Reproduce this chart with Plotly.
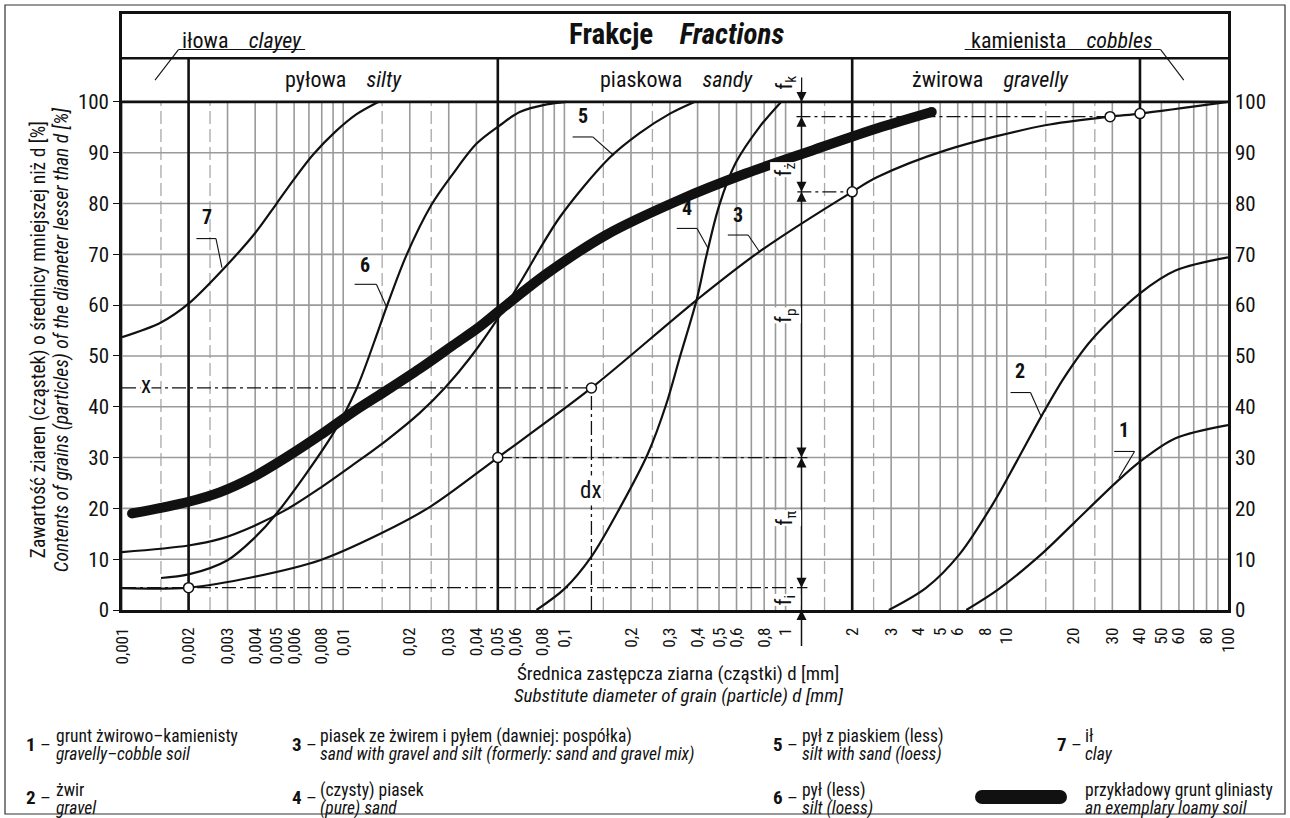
import math
import plotly.graph_objects as go

# ---------------- data ----------------
# curve 1 - gravelly-cobble soil
d1 = [6.56, 9.12, 14.6, 20.3, 31.9, 40, 57.9, 100]
p1 = [0, 4.0, 11.3, 17.3, 25.5, 29.2, 33.8, 36.4]
# curve 2 - gravel
d2 = [2.93, 4.33, 6.12, 8.74, 11.1, 14.4, 18.2, 24.1, 40, 57.9, 100]
p2 = [0, 4.4, 11.0, 21.2, 29.3, 38.3, 45.8, 53.1, 62.3, 66.8, 69.4]
# curve 3 - sand with gravel and silt
d3 = [0.001, 0.002, 0.00393, 0.00786, 0.0147, 0.0247, 0.05, 0.1325, 0.396, 0.76, 2, 2.6, 5.32, 14.9, 29.3, 40, 100]
p3 = [4.3, 4.4, 6.5, 9.8, 15.0, 20.3, 30.0, 43.7, 61.0, 70.5, 82.3, 85.2, 90.5, 95.4, 97.1, 97.7, 100]
# curve 4 - (pure) sand
d4 = [0.0748, 0.1003, 0.1325, 0.1777, 0.2386, 0.2886, 0.3313, 0.396, 0.4373, 0.50, 0.595, 0.76, 0.954]
p4 = [0, 4.2, 10.5, 20.0, 30.8, 40.5, 49.5, 61.0, 69.5, 79.5, 88.0, 95.0, 100]
# curve 5 - silt with sand (loess)
d5 = [0.001, 0.002, 0.00278, 0.00393, 0.00556, 0.00786, 0.0111, 0.0157, 0.0222, 0.0292, 0.0374, 0.0511, 0.0628, 0.0953, 0.16, 0.218, 0.3, 0.387]
p5 = [11.4, 12.7, 14.0, 16.5, 19.8, 24.0, 28.6, 33.4, 38.8, 44.0, 49.6, 58.0, 64.3, 77.3, 89.0, 93.8, 97.7, 100]
# curve 6 - silt (loess)
d6 = [0.0015, 0.002, 0.003, 0.00393, 0.005, 0.009, 0.0115, 0.0144, 0.0157, 0.0193, 0.0251, 0.0314, 0.0401, 0.0511, 0.0628, 0.0832, 0.102]
p6 = [6.3, 7.0, 9.8, 14.0, 19.0, 34.7, 43.6, 55.0, 59.6, 69.8, 79.8, 85.9, 91.8, 95.4, 98.0, 99.5, 100]
# curve 7 - clay
d7 = [0.001, 0.0015, 0.002, 0.003, 0.004, 0.005, 0.006, 0.0073, 0.0093, 0.0115, 0.0144]
p7 = [53.7, 56.6, 60.3, 68.0, 74.2, 80.0, 84.8, 89.6, 94.3, 97.6, 100]
# exemplary loamy soil (thick)
dT = [0.00111, 0.002, 0.00278, 0.00393, 0.00556, 0.00786, 0.0111, 0.0157, 0.0222, 0.0314, 0.0415, 0.0511, 0.0832, 0.154, 0.331, 0.66, 1.33, 2.6, 4.58]
pT = [19.0, 21.3, 23.2, 26.2, 30.1, 34.4, 39.0, 43.2, 47.5, 52.1, 55.8, 59.0, 66.2, 73.8, 80.7, 85.9, 90.5, 94.8, 98.0]
# open-circle markers on curve 3
mk_d = [0.002, 0.05, 0.1325, 2, 29.3, 40]
mk_p = [4.4, 30.0, 43.7, 82.3, 97.1, 97.7]
# fraction dimension levels (arrow tips)
f_down = [100, 82.3, 30.0, 4.4]
f_up = [97.1, 82.3, 30.0, 0]

x_tick_vals = [0.001, 0.002, 0.003, 0.004, 0.005, 0.006, 0.008, 0.01, 0.02, 0.03, 0.04, 0.05, 0.06, 0.08,
               0.1, 0.2, 0.3, 0.4, 0.5, 0.6, 0.8, 1, 2, 3, 4, 5, 6, 8, 10, 20, 30, 40, 50, 60, 80, 100]
x_tick_text = ["0,001", "0,002", "0,003", "0,004", "0,005", "0,006", "0,008", "0,01", "0,02", "0,03", "0,04",
               "0,05", "0,06", "0,08", "0,1", "0,2", "0,3", "0,4", "0,5", "0,6", "0,8", "1", "2", "3", "4", "5",
               "6", "8", "10", "20", "30", "40", "50", "60", "80", "100"]
y_tick_vals = [0, 10, 20, 30, 40, 50, 60, 70, 80, 90, 100]
fraction_bounds = [0.002, 0.05, 2, 40]

# ---------------- layout helpers ----------------
FONT = "Roboto Condensed, Liberation Sans Narrow, Arial Narrow, Roboto, Liberation Sans, sans-serif"
BLACK = "#111111"
GRID = "#9a9a9a"
PL, PR, PT, PB = 122, 1228, 14, 610
YTOP = 117.3
HMID = 108.6
L = math.log10


def px2paper_x(px):
    return (px - PL) / (PR - PL)


def px2paper_y(py):
    return (PB - py) / (PB - PT)


def data2paper_x(d):
    return (L(d) + 3) / 5.0


def A(**kw):
    base = dict(showarrow=False, xanchor="center", yanchor="middle")
    base.update(kw)
    return base


fig = go.Figure()
shapes = []
ann = []

# vertical grid
for n in range(-3, 2):
    for k in range(1, 10):
        v = k * 10 ** n
        shapes.append(dict(type="line", xref="x", yref="y", x0=v, x1=v, y0=0, y1=100,
                           line=dict(color=GRID, width=1.6), layer="below"))
    for k in (1.5, 2.5):
        v = k * 10 ** n
        shapes.append(dict(type="line", xref="x", yref="y", x0=v, x1=v, y0=0, y1=100,
                           line=dict(color="#a9a9a9", width=1.3, dash="13px,5px"), layer="below"))
# horizontal grid
for yv in range(10, 100, 10):
    shapes.append(dict(type="line", xref="x", yref="y", x0=0.001, x1=100, y0=yv, y1=yv,
                       line=dict(color=GRID, width=1.6), layer="below"))
# fraction boundaries & header lines
for b in fraction_bounds:
    shapes.append(dict(type="line", xref="x", yref="y", x0=b, x1=b, y0=0, y1=HMID,
                       line=dict(color=BLACK, width=2.6), layer="below"))
for yv in (100, HMID):
    shapes.append(dict(type="line", xref="x", yref="y", x0=0.001, x1=100, y0=yv, y1=yv,
                       line=dict(color=BLACK, width=2.6), layer="below"))

# dash-dot construction lines
DD = "14px,4px,3px,4px"
dd_lines = [
    (0.001, mk_p[0], 1.255, mk_p[0]),
    (mk_d[1], mk_p[1], 1.255, mk_p[1]),
    (0.001, mk_p[2], mk_d[2], mk_p[2]),
    (mk_d[2], 0, mk_d[2], mk_p[2]),
    (1.13, mk_p[3], mk_d[3], mk_p[3]),
    (1.12, mk_p[4], mk_d[4], mk_p[4]),
]
for x0, y0, x1, y1 in dd_lines:
    shapes.append(dict(type="line", xref="x", yref="y", x0=x0, x1=x1, y0=y0, y1=y1,
                       line=dict(color=BLACK, width=1.3, dash=DD), layer="below"))

# f dimension line (inside plot + continuation below the axis)
DF = 1.18
shapes.append(dict(type="line", xref="x", yref="y", x0=DF, x1=DF, y0=0, y1=104.8,
                   line=dict(color=BLACK, width=1.5)))
shapes.append(dict(type="line", xref="paper", yref="paper", x0=data2paper_x(DF), x1=data2paper_x(DF),
                   y0=px2paper_y(646), y1=px2paper_y(610), line=dict(color=BLACK, width=1.5)))

# f labels
for txt, yv in [("f<sub>k</sub>", 103.7), ("f<sub>ż</sub>", 86.6), ("f<sub>p</sub>", 58.0),
                ("f<sub>π</sub>", 18.1), ("f<sub>i</sub>", 2.0)]:
    ann.append(A(x=L(1.0), y=yv, xref="x", yref="y", text=txt, textangle=-90,
                 font=dict(family=FONT, size=22, color=BLACK), bgcolor="white", borderpad=0))

# curve number labels: (text d, text y, underline d0, d1, y, leader end d, y)
labels = [
    ("7", 0.00242, 75.3, 0.00217, 0.00266, 73.1, 0.00283, 67.4),
    ("6", 0.01254, 66.0, 0.01126, 0.01413, 64.1, 0.01573, 59.6),
    ("5", 0.1215, 95.3, 0.1089, 0.1343, 93.1, 0.1667, 89.5),
    ("4", 0.358, 77.2, 0.322, 0.398, 75.1, 0.446, 71.2),
    ("3", 0.610, 75.8, 0.548, 0.677, 73.8, 0.762, 70.5),
    ("2", 11.5, 45.0, 10.4, 12.8, 42.8, 14.3, 38.1),
    ("1", 33.9, 33.4, 30.6, 37.8, 31.2, 32.1, 26.0),
]
for t, td, ty, u0, u1, uy, ed, ey in labels:
    ann.append(A(x=L(td), y=ty, xref="x", yref="y", text="<b>%s</b>" % t,
                 font=dict(family=FONT, size=20, color=BLACK), yanchor="bottom", yshift=-4))
    shapes.append(dict(type="line", xref="x", yref="y", x0=u0, x1=u1, y0=uy, y1=uy,
                       line=dict(color=BLACK, width=1.1)))
    shapes.append(dict(type="line", xref="x", yref="y", x0=u1, x1=ed, y0=uy, y1=ey,
                       line=dict(color=BLACK, width=1.1)))

# header texts
ann.append(A(x=L(0.3199), y=113.4, xref="x", yref="y",
             text="<b>Frakcje</b>    <b><i>Fractions</i></b>",
             font=dict(family=FONT, size=29, color=BLACK)))
ann.append(A(x=L(0.00349), y=112.1, xref="x", yref="y",
             text="iłowa    <i>clayey</i>", font=dict(family=FONT, size=22, color=BLACK)))
ann.append(A(x=L(17.8), y=112.1, xref="x", yref="y",
             text="kamienista    <i>cobbles</i>", font=dict(family=FONT, size=22, color=BLACK)))
for txt, xd in [("pyłowa    <i>silty</i>", 0.01), ("piaskowa    <i>sandy</i>", 0.3199),
                ("żwirowa    <i>gravelly</i>", 8.41)]:
    ann.append(A(x=L(xd), y=104.4, xref="x", yref="y", text=txt,
                 font=dict(family=FONT, size=22, color=BLACK)))
# header underlines + leaders
shapes.append(dict(type="line", xref="x", yref="y", x0=0.0018, x1=0.00673, y0=110.3, y1=110.3,
                   line=dict(color=BLACK, width=1.1)))
shapes.append(dict(type="line", xref="x", yref="y", x0=0.0018, x1=0.00141, y0=110.3, y1=104.3,
                   line=dict(color=BLACK, width=1.1)))
shapes.append(dict(type="line", xref="x", yref="y", x0=6.45, x1=49.6, y0=110.3, y1=110.3,
                   line=dict(color=BLACK, width=1.1)))
shapes.append(dict(type="line", xref="x", yref="y", x0=49.6, x1=63.1, y0=110.3, y1=104.3,
                   line=dict(color=BLACK, width=1.1)))

# x / dx labels
ann.append(A(x=L(0.00129), y=mk_p[2], xref="x", yref="y", text="x",
             font=dict(family=FONT, size=23, color=BLACK), bgcolor="white", borderpad=0, yshift=2))
ann.append(A(x=L(mk_d[2]), y=23.6, xref="x", yref="y", text="dx",
             font=dict(family=FONT, size=23, color=BLACK), bgcolor="white", borderpad=1))

# axis titles
ann.append(A(x=px2paper_x(38), y=53.1, xref="paper", yref="y", textangle=-90,
             text="Zawartość ziaren (cząstek) o średnicy mniejszej niż d [%]",
             font=dict(family=FONT, size=19.5, color=BLACK)))
ann.append(A(x=px2paper_x(61), y=53.1, xref="paper", yref="y", textangle=-90,
             text="<i>Contents of grains (particles) of the diameter lesser than d [%]</i>",
             font=dict(family=FONT, size=19.5, color=BLACK)))
ann.append(A(x=px2paper_x(678), y=px2paper_y(673), xref="paper", yref="paper",
             text="Średnica zastępcza ziarna (cząstki) d [mm]",
             font=dict(family=FONT, size=19, color=BLACK)))
ann.append(A(x=px2paper_x(678), y=px2paper_y(695), xref="paper", yref="paper",
             text="<i>Substitute diameter of grain (particle) d [mm]</i>",
             font=dict(family=FONT, size=19, color=BLACK)))

# legend (manual)
legend_items = [
    ("1", 24, 54, 744, "grunt żwirowo–kamienisty", "gravelly–cobble soil"),
    ("2", 24, 54, 798, "żwir", "gravel"),
    ("3", 290, 318, 744, "piasek ze żwirem i pyłem (dawniej: pospółka)",
     "sand with gravel and silt (formerly: sand and gravel mix)"),
    ("4", 290, 318, 798, "(czysty) piasek", "(pure) sand"),
    ("5", 771, 800, 744, "pył z piaskiem (less)", "silt with sand (loess)"),
    ("6", 771, 800, 798, "pył (less)", "silt (loess)"),
    ("7", 1055, 1083, 744, "ił", "clay"),
]
for num, nx, tx, cy, l1, l2 in legend_items:
    ann.append(A(x=px2paper_x(nx), y=px2paper_y(cy), xref="paper", yref="paper",
                 xanchor="left", text="<b>%s</b> –" % num, font=dict(family=FONT, size=19, color=BLACK)))
    ann.append(A(x=px2paper_x(tx), y=px2paper_y(cy - 8), xref="paper", yref="paper",
                 xanchor="left", text=l1, font=dict(family=FONT, size=17.5, color=BLACK)))
    ann.append(A(x=px2paper_x(tx), y=px2paper_y(cy + 10), xref="paper", yref="paper",
                 xanchor="left", text="<i>%s</i>" % l2, font=dict(family=FONT, size=17.5, color=BLACK)))
ann.append(A(x=px2paper_x(1083), y=px2paper_y(790), xref="paper", yref="paper",
             xanchor="left", text="przykładowy grunt gliniasty", font=dict(family=FONT, size=17.5, color=BLACK)))
ann.append(A(x=px2paper_x(1083), y=px2paper_y(808), xref="paper", yref="paper",
             xanchor="left", text="<i>an exemplary loamy soil</i>", font=dict(family=FONT, size=17.5, color=BLACK)))
# legend thick bar (pill)
shapes.append(dict(type="rect", xref="paper", yref="paper", x0=px2paper_x(982), x1=px2paper_x(1060),
                   y0=px2paper_y(804), y1=px2paper_y(790), fillcolor=BLACK, line=dict(width=0)))
for cx in (982, 1060):
    shapes.append(dict(type="circle", xref="paper", yref="paper", x0=px2paper_x(cx - 7), x1=px2paper_x(cx + 7),
                       y0=px2paper_y(804), y1=px2paper_y(790), fillcolor=BLACK, line=dict(width=0)))
# outer border
shapes.append(dict(type="rect", xref="paper", yref="paper", x0=px2paper_x(5), x1=px2paper_x(1285),
                   y0=px2paper_y(814), y1=px2paper_y(5), line=dict(color="#333333", width=1.2)))

# ---------------- traces ----------------
thin = dict(color=BLACK, width=2.2, shape="spline", smoothing=0.9)
for dd, pp in [(d1, p1), (d2, p2), (d3, p3), (d4, p4), (d5, p5), (d6, p6), (d7, p7)]:
    fig.add_trace(go.Scatter(x=dd, y=pp, mode="lines", line=thin, hoverinfo="skip", showlegend=False))
fig.add_trace(go.Scatter(x=dT, y=pT, mode="lines", line=dict(color=BLACK, width=10, shape="spline", smoothing=0.9),
                         hoverinfo="skip", showlegend=False))
fig.add_trace(go.Scatter(x=[dT[0], dT[-1]], y=[pT[0], pT[-1]], mode="markers",
                         marker=dict(color=BLACK, size=10), hoverinfo="skip", showlegend=False))
fig.add_trace(go.Scatter(x=mk_d, y=mk_p, mode="markers",
                         marker=dict(color="white", size=10, line=dict(color=BLACK, width=1.5)),
                         hoverinfo="skip", showlegend=False))
# arrowheads of the fraction dimension line
fig.add_trace(go.Scatter(x=[DF] * len(f_down), y=f_down, mode="markers", cliponaxis=False,
                         marker=dict(symbol="arrow-down", size=10, color=BLACK, line=dict(width=0)),
                         hoverinfo="skip", showlegend=False))
fig.add_trace(go.Scatter(x=[DF] * len(f_up), y=f_up, mode="markers", cliponaxis=False,
                         marker=dict(symbol="arrow-up", size=10, color=BLACK, line=dict(width=0)),
                         hoverinfo="skip", showlegend=False))
# invisible trace to activate right axis
fig.add_trace(go.Scatter(x=[0.001], y=[0], yaxis="y2", mode="markers", marker=dict(opacity=0),
                         hoverinfo="skip", showlegend=False))

fig.update_layout(
    width=1290, height=818,
    margin=dict(l=PL, r=1290 - PR, t=PT, b=818 - PB, pad=0),
    paper_bgcolor="white", plot_bgcolor="white",
    showlegend=False,
    font=dict(family=FONT, size=17, color=BLACK),
    xaxis=dict(type="log", range=[-3, 2], tickvals=x_tick_vals, ticktext=x_tick_text, tickangle=-90,
               showgrid=False, zeroline=False, showline=True, mirror=True, linecolor=BLACK, linewidth=2.6,
               ticks="", ticklabelstandoff=8, tickfont=dict(family=FONT, size=17, color=BLACK)),
    yaxis=dict(range=[0, YTOP], tickvals=y_tick_vals, showgrid=False, zeroline=False, showline=True,
               mirror=True, linecolor=BLACK, linewidth=2.6, ticks="outside", ticklen=6, tickwidth=1.2,
               tickcolor=BLACK, tickfont=dict(family=FONT, size=21, color=BLACK)),
    yaxis2=dict(range=[0, YTOP], overlaying="y", side="right", tickvals=y_tick_vals, showgrid=False,
                zeroline=False, showline=False, ticks="", ticklabelstandoff=6,
                tickfont=dict(family=FONT, size=21, color=BLACK)),
    shapes=shapes,
    annotations=ann,
)

fig.write_html("out.html", config={"displayModeBar": False},
               post_script="document.body.style.margin='0px';")
